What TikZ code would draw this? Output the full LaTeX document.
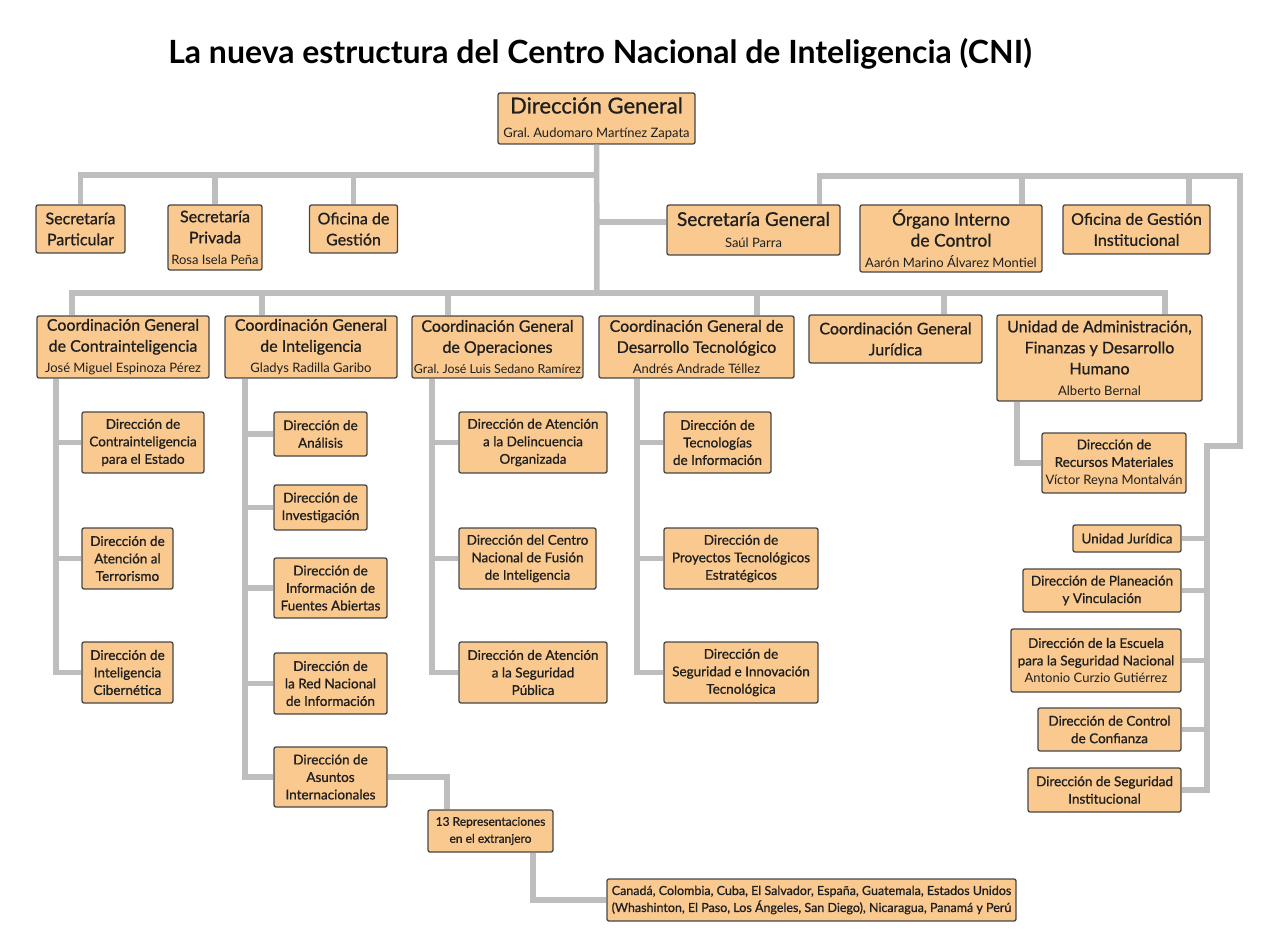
\documentclass[tikz,border=0pt]{standalone}
\usepackage{fontspec}
\setmainfont{Lato}
\newfontfamily\boxfont{Lato}[FakeBold=0.9]
\usetikzlibrary{positioning, calc}
\definecolor{boxfill}{HTML}{F9C98F}
\definecolor{boxline}{HTML}{464646}
\definecolor{linkgray}{HTML}{BEBEBE}
\newcommand{\who}[2][13]{{\rmfamily\fontsize{#1}{15}\selectfont #2}}
\frenchspacing

\begin{document}
\begin{tikzpicture}[x=1pt, y=-1pt,
  unit/.style={draw=boxline, fill=boxfill, rounded corners=2pt, line width=1.3pt,
               align=center, inner sep=1pt, text=black!88},
  top/.style={unit, font=\boxfont\fontsize{22}{24}\selectfont},
  sec/.style={unit, font=\boxfont\fontsize{16}{21}\selectfont},
  big/.style={unit, font=\boxfont\fontsize{16}{21}\selectfont},
  sub/.style={unit, font=\boxfont\fontsize{13.5}{17.5}\selectfont},
  tiny/.style={unit, font=\boxfont\fontsize{12}{17}\selectfont},
  link/.style={draw=linkgray, line width=5.5pt},
]
\useasboundingbox (0,0) rectangle (1280,944);

\node[font=\fontsize{32}{34}\selectfont\bfseries] (title) at (600,54)
  {La nueva estructura del Centro Nacional de Inteligencia (CNI)};

% direccion y primer nivel
\node[top, minimum width=197pt, minimum height=51pt] (dg) at (596.5,118.5)
  {Dirección General\\\who{Gral. Audomaro Martínez Zapata}};
\node[sec, minimum width=89pt, minimum height=48pt] (secpart) at (80.5,229) {Secretaría\\Particular};
\node[sec, minimum width=94pt, minimum height=65pt] (secpriv) at (215,237.5)
  {Secretaría\\Privada\\\who{Rosa Isela Peña}};
\node[sec, minimum width=88pt, minimum height=48pt] (ofges) at (353.5,229) {Oficina de\\Gestión};
\node[unit, font=\boxfont\fontsize{19}{22}\selectfont, minimum width=173pt, minimum height=50pt] (secgen) at (753.5,230)
  {Secretaría General\\\who{Saúl Parra}};
\node[unit, font=\boxfont\fontsize{17.5}{21}\selectfont, minimum width=182pt, minimum height=67pt] (organo) at (951,238.5)
  {Órgano Interno\\de Control\\\who{Aarón Marino Álvarez Montiel}};
\node[sec, minimum width=147pt, minimum height=49pt] (ofgi) at (1136.5,229.5)
  {Oficina de Gestión\\Institucional};

% coordinaciones
\node[big, minimum width=172pt, minimum height=62pt] (cgci) at (123,347)
  {Coordinación General\\de Contrainteligencia\\\who{José Miguel Espinoza Pérez}};
\node[big, minimum width=172pt, minimum height=62pt] (cgi) at (311,347)
  {Coordinación General\\de Inteligencia\\\who{Gladys Radilla Garibo}};
\node[big, minimum width=171pt, minimum height=62pt, inner sep=0.5pt] (cgo) at (497.5,347)
  {Coordinación General\\de Operaciones\\\who[12.4]{Gral. José Luis Sedano Ramírez}};
\node[big, minimum width=195pt, minimum height=62pt] (cgdt) at (696.5,347)
  {Coordinación General de\\Desarrollo Tecnológico\\\who{Andrés Andrade Téllez}};
\node[big, minimum width=173pt, minimum height=48pt] (cgj) at (895.5,339)
  {Coordinación General\\Jurídica};
\node[big, minimum width=205pt, minimum height=86pt] (uaf) at (1099.5,358)
  {Unidad de Administración,\\Finanzas y Desarrollo\\Humano\\\who{Alberto Bernal}};

% direcciones
\node[sub, minimum width=122pt, minimum height=61pt] (dce) at (143,442.5)
  {Dirección de\\Contrainteligencia\\para el Estado};
\node[sub, minimum width=91pt, minimum height=61pt] (dat) at (127.5,558.5)
  {Dirección de\\Atención al\\Terrorismo};
\node[sub, minimum width=91pt, minimum height=61pt] (dic) at (127.5,672.5)
  {Dirección de\\Inteligencia\\Cibernética};

\node[sub, minimum width=93pt, minimum height=44pt] (dan) at (320.5,434) {Dirección de\\Análisis};
\node[sub, minimum width=93pt, minimum height=45pt] (dinv) at (320.5,507.5) {Dirección de\\Investigación};
\node[sub, minimum width=113pt, minimum height=60pt] (dfa) at (330.5,588)
  {Dirección de\\Información de\\Fuentes Abiertas};
\node[sub, minimum width=113pt, minimum height=61pt] (drn) at (330.5,683.5)
  {Dirección de\\la Red Nacional\\de Información};
\node[sub, minimum width=113pt, minimum height=60pt] (dai) at (330.5,777)
  {Dirección de\\Asuntos\\Internacionales};
\node[tiny, minimum width=125pt, minimum height=42pt] (repr) at (490.5,831)
  {13 Representaciones\\en el extranjero};
\node[unit, font=\boxfont\fontsize{12.5}{17}\selectfont, minimum width=409pt, minimum height=42pt] (paises) at (811.5,900)
  {Canadá, Colombia, Cuba, El Salvador, España, Guatemala, Estados Unidos\\(Whashinton, El Paso, Los Ángeles, San Diego), Nicaragua, Panamá y Perú};

\node[sub, minimum width=148pt, minimum height=61pt] (dado) at (533,442.5)
  {Dirección de Atención\\a la Delincuencia\\Organizada};
\node[sub, minimum width=137pt, minimum height=61pt] (dcnf) at (527.5,558.5)
  {Dirección del Centro\\Nacional de Fusión\\de Inteligencia};
\node[sub, minimum width=148pt, minimum height=61pt] (dasp) at (533,672.5)
  {Dirección de Atención\\a la Seguridad\\Pública};

\node[sub, minimum width=107pt, minimum height=61pt] (dti) at (717.5,442.5)
  {Dirección de\\Tecnologías\\de Información};
\node[sub, minimum width=154pt, minimum height=61pt] (dpte) at (741,558.5)
  {Dirección de\\Proyectos Tecnológicos\\Estratégicos};
\node[sub, minimum width=154pt, minimum height=61pt] (dsit) at (741,672.5)
  {Dirección de\\Seguridad e Innovación\\Tecnológica};

\node[sub, minimum width=144pt, minimum height=60pt] (drm) at (1114,463)
  {Dirección de\\Recursos Materiales\\\who{Víctor Reyna Montalván}};
\node[sub, minimum width=108pt, minimum height=27pt] (uju) at (1127,538.5) {Unidad Jurídica};
\node[sub, minimum width=158pt, minimum height=43pt] (dpv) at (1102,590.5)
  {Dirección de Planeación\\y Vinculación};
\node[sub, minimum width=170pt, minimum height=63pt] (desc) at (1096,660.5)
  {Dirección de la Escuela\\para la Seguridad Nacional\\\who{Antonio Curzio Gutiérrez}};
\node[sub, minimum width=143pt, minimum height=43pt] (dcc) at (1109.5,729.5)
  {Dirección de Control\\de Confianza};
\node[sub, minimum width=153pt, minimum height=44pt] (dsi) at (1104.5,790)
  {Dirección de Seguridad\\Institucional};

% conectores
\coordinate (t1) at (597,175);
\coordinate (t2) at (597,293);
\coordinate (r1) at (1240,176);
\coordinate (r2) at (1207,446);
\draw[link] (dg) -- (t2);
\draw[link] (secpart.north) |- (t1);
\draw[link] (secpriv.north) -- (secpriv.north |- t1);
\draw[link] (ofges.north) -- (ofges.north |- t1);
\draw[link] ([yshift=8pt]secgen.west) -- ([yshift=8pt]secgen.west -| t1);
\draw[link] ([xshift=66pt]secgen.north) |- (r1) |- (r2) |- (dsi.east);
\draw[link] ([xshift=71pt]organo.north) -- ([xshift=71pt]organo.north |- r1);
\draw[link] ([xshift=52.5pt]ofgi.north) -- ([xshift=52.5pt]ofgi.north |- r1);
\foreach \n in {uju,dpv,desc,dcc}
  \draw[link] (\n.east) -- (\n.east -| r2);

\draw[link] ([xshift=-51pt]cgci.north) |- (t2) -| ([xshift=65.5pt]uaf.north);
\foreach \n/\dx in {cgi/-49, cgo/-49.5, cgdt/60.5, cgj/48.5}
  \draw[link] ([xshift=\dx pt]\n.north) -- ([xshift=\dx pt]\n.north |- t2);

\coordinate (cci) at ([xshift=-67pt]cgci.south);
\draw[link] (cci) |- (dic.west);
\foreach \n in {dce,dat} \draw[link] (\n.west) -- (\n.west -| cci);

\coordinate (cin) at ([xshift=-66pt]cgi.south);
\draw[link] (cin) |- (dai.west);
\foreach \n in {dan,dinv,dfa,drn} \draw[link] (\n.west) -- (\n.west -| cin);
\draw[link] (dai.east) -| ([xshift=-43.5pt]repr.north);
\draw[link] ([xshift=42.5pt]repr.south) |- (paises.west);

\coordinate (cop) at ([xshift=-65.5pt]cgo.south);
\draw[link] (cop) |- (dasp.west);
\foreach \n in {dado,dcnf} \draw[link] (\n.west) -- (\n.west -| cop);

\coordinate (cdt) at ([xshift=-59.5pt]cgdt.south);
\draw[link] (cdt) |- (dsit.west);
\foreach \n in {dti,dpte} \draw[link] (\n.west) -- (\n.west -| cdt);

\draw[link] ([xshift=-82.5pt]uaf.south) |- (drm.west);
\end{tikzpicture}
\end{document}
